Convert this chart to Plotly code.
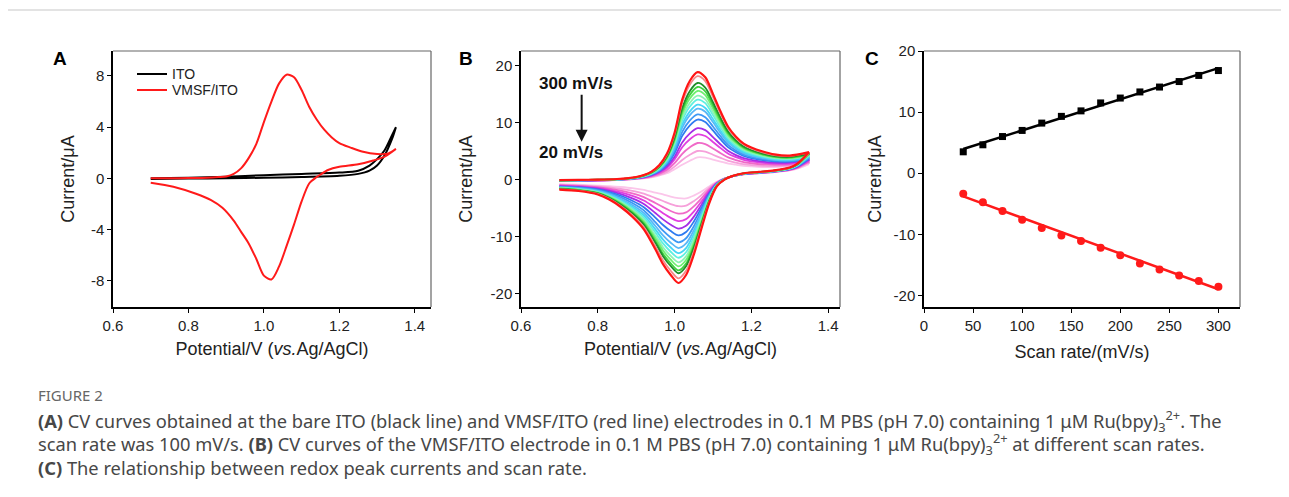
import plotly.graph_objects as go

# the page body adds an 8 px margin, so the figure is 8 px smaller than the window
OFF = 8
W, H = 1289 - OFF, 497 - OFF

# ---------------- Panel A data ----------------
a_ito_fwd_E = [0.70, 0.80, 0.90, 1.00, 1.10, 1.20, 1.25, 1.28, 1.30, 1.32, 1.34, 1.35]
a_ito_fwd_I = [-0.05, -0.02, 0.0, 0.05, 0.1, 0.2, 0.35, 0.6, 1.0, 1.8, 3.1, 4.0]
a_ito_rev_E = [1.35, 1.34, 1.32, 1.30, 1.28, 1.25, 1.20, 1.10, 1.00, 0.90, 0.80, 0.70]
a_ito_rev_I = [4.0, 3.4, 2.2, 1.5, 1.0, 0.6, 0.45, 0.35, 0.25, 0.12, 0.05, 0.0]

a_vmsf_fwd_E = [0.70, 0.75, 0.80, 0.85, 0.88, 0.90, 0.92, 0.94, 0.96, 0.98, 1.00, 1.02, 1.04,
                1.06, 1.08, 1.10, 1.12, 1.14, 1.16, 1.18, 1.20, 1.23, 1.26, 1.30, 1.33, 1.35]
a_vmsf_fwd_I = [0.0, 0.0, 0.02, 0.05, 0.1, 0.15, 0.35, 0.8, 1.6, 2.7, 4.4, 6.0, 7.4,
                8.1, 7.9, 6.9, 5.6, 4.6, 3.8, 3.2, 2.75, 2.4, 2.1, 1.9, 1.95, 2.3]
a_vmsf_rev_E = [1.35, 1.32, 1.29, 1.25, 1.20, 1.17, 1.15, 1.14, 1.12, 1.10, 1.08, 1.06, 1.04,
                1.02, 1.00, 0.98, 0.96, 0.94, 0.92, 0.89, 0.86, 0.82, 0.76, 0.70]
a_vmsf_rev_I = [2.3, 1.7, 1.4, 1.1, 0.9, 0.65, 0.3, 0.1, -0.4, -1.8, -3.6, -5.3, -6.9,
                -7.9, -7.6, -6.3, -5.1, -4.2, -3.3, -2.3, -1.7, -1.2, -0.65, -0.34]

# ---------------- Panel B data ----------------
b_fwd_E = [0.70, 0.75, 0.80, 0.85, 0.88, 0.90, 0.92, 0.94, 0.96, 0.98, 1.00, 1.02, 1.04,
           1.06, 1.08, 1.10, 1.12, 1.14, 1.16, 1.18, 1.20, 1.23, 1.26, 1.30, 1.35]
b_fast_fwd_I = [-0.1, -0.05, 0.0, 0.1, 0.25, 0.45, 0.8, 1.4, 2.5, 4.5, 8.2, 14.0, 17.3,
                18.8, 17.9, 15.0, 11.9, 9.2, 7.5, 6.3, 5.6, 4.9, 4.4, 4.2, 4.8]
b_slow_fwd_I = [-0.3, -0.25, -0.2, -0.1, 0.0, 0.1, 0.2, 0.4, 0.7, 1.1, 1.8, 2.6, 3.3,
                3.9, 3.85, 3.5, 3.15, 2.8, 2.6, 2.4, 2.3, 2.2, 2.2, 2.3, 2.7]
b_rev_E = [1.35, 1.32, 1.30, 1.26, 1.22, 1.18, 1.15, 1.13, 1.11, 1.09, 1.07, 1.05, 1.03,
           1.01, 0.99, 0.97, 0.95, 0.92, 0.89, 0.86, 0.83, 0.80, 0.75, 0.70]
b_fast_rev_I = [4.8, 2.8, 2.1, 1.6, 1.35, 1.1, 0.6, 0.0, -1.2, -4.2, -8.6, -13.2, -16.7,
                -18.1, -16.7, -14.8, -12.2, -8.7, -6.5, -4.8, -3.5, -2.6, -2.0, -1.75]
b_slow_rev_I = [2.7, 1.9, 1.6, 1.3, 1.1, 0.9, 0.55, 0.2, -0.4, -1.2, -2.1, -2.8, -3.3,
                -3.25, -3.0, -2.6, -2.3, -1.8, -1.5, -1.3, -1.15, -1.05, -0.9, -0.8]
# peak currents of each curve (slow -> fast)
b_anodic_peaks = [3.9, 5.0, 6.4, 7.9, 9.0, 10.5, 11.4, 12.4, 13.1, 14.0, 14.7, 15.5, 16.2, 16.9, 18.1, 18.8]
b_cathodic_peaks = [-3.3, -4.7, -6.0, -7.3, -8.6, -9.8, -11.0, -12.0, -12.9, -13.7, -14.5, -15.2, -15.9, -16.4, -17.3, -18.1]
b_colors = ["#fbc6ea", "#f6a0da", "#f06ac8", "#e23fe0", "#a62ee6", "#2f7bf0", "#3e99f5", "#5ab8f7",
            "#46d6f5", "#5ef0e0", "#8ef3b4", "#6ef070", "#3ed23e", "#1f8f2a", "#f58a8a", "#ff1414"]

# ---------------- Panel C data ----------------
c_scan = [40, 60, 80, 100, 120, 140, 160, 180, 200, 220, 240, 260, 280, 300]
c_ipa = [3.5, 4.65, 6.0, 7.0, 8.2, 9.3, 10.2, 11.5, 12.3, 13.3, 14.1, 15.0, 16.0, 16.8]
c_ipc = [-3.35, -4.75, -6.2, -7.6, -8.95, -10.2, -11.1, -12.2, -13.45, -14.8, -15.75, -16.75, -17.65, -18.6]
c_fit_x = [40, 300]
c_fit_ipa = [3.95, 17.2]
c_fit_ipc = [-3.8, -19.0]

# tick labels
a_xticks = [0.6, 0.8, 1.0, 1.2, 1.4]
a_xlabels = ["0.6", "0.8", "1.0", "1.2", "1.4"]
a_yticks = [-8, -4, 0, 4, 8]
a_ylabels = ["-8", "-4", "0", "4", "8"]
b_yticks = [-20, -10, 0, 10, 20]
b_ylabels = ["-20", "-10", "0", "10", "20"]
c_xticks = [0, 50, 100, 150, 200, 250, 300]
c_xlabels = ["0", "50", "100", "150", "200", "250", "300"]

fig = go.Figure()

# Panel A
fig.add_trace(go.Scatter(x=a_ito_fwd_E + a_ito_rev_E, y=a_ito_fwd_I + a_ito_rev_I, mode="lines",
                         line=dict(color="black", width=2, shape="spline", smoothing=0.8),
                         xaxis="x", yaxis="y", showlegend=False, name="ITO"))
fig.add_trace(go.Scatter(x=a_vmsf_fwd_E + a_vmsf_rev_E, y=a_vmsf_fwd_I + a_vmsf_rev_I, mode="lines",
                         line=dict(color="#ff1a1a", width=2, shape="spline", smoothing=0.8),
                         xaxis="x", yaxis="y", showlegend=False, name="VMSF/ITO"))

# Panel B
pa0, pa1 = b_anodic_peaks[0], b_anodic_peaks[-1]
pc0, pc1 = b_cathodic_peaks[0], b_cathodic_peaks[-1]
for pa, pc, col in zip(b_anodic_peaks, b_cathodic_peaks, b_colors):
    fa = (pa - pa0) / (pa1 - pa0)
    fc = (pc - pc0) / (pc1 - pc0)
    up = [s + (f - s) * fa for s, f in zip(b_slow_fwd_I, b_fast_fwd_I)]
    lo = [s + (f - s) * fc for s, f in zip(b_slow_rev_I, b_fast_rev_I)]
    fig.add_trace(go.Scatter(x=b_fwd_E + b_rev_E, y=up + lo, mode="lines",
                             line=dict(color=col, width=2.2 if col == "#ff1414" else 1.8,
                                       shape="spline", smoothing=0.8),
                             xaxis="x2", yaxis="y2", showlegend=False))

# Panel C
fig.add_trace(go.Scatter(x=c_fit_x, y=c_fit_ipa, mode="lines", line=dict(color="black", width=2.5),
                         xaxis="x3", yaxis="y3", showlegend=False))
fig.add_trace(go.Scatter(x=c_fit_x, y=c_fit_ipc, mode="lines", line=dict(color="#ff1a1a", width=2.5),
                         xaxis="x3", yaxis="y3", showlegend=False))
fig.add_trace(go.Scatter(x=c_scan, y=c_ipa, mode="markers",
                         marker=dict(symbol="square", size=7, color="black"),
                         xaxis="x3", yaxis="y3", showlegend=False))
fig.add_trace(go.Scatter(x=c_scan, y=c_ipc, mode="markers",
                         marker=dict(symbol="circle", size=8, color="#ff1a1a"),
                         xaxis="x3", yaxis="y3", showlegend=False))


def px(x):
    return (x - OFF) / W


def py(y):
    return 1 - (y - OFF) / H


ytop, ybot = 51, 307
FAM = "Liberation Sans, Arial, sans-serif"
axis_font = dict(family=FAM, size=15, color="#222")
title_font = dict(family=FAM, size=18, color="#222")
common = dict(showline=True, linecolor="black", linewidth=1.5, ticks="outside", ticklen=4,
              tickwidth=1.2, tickcolor="black", showgrid=False, zeroline=False, tickfont=axis_font,
              automargin=False, tickmode="array")

fig.update_layout(
    template="none",
    width=W, height=H, margin=dict(l=0, r=0, t=0, b=0, autoexpand=False),
    paper_bgcolor="white", plot_bgcolor="white", showlegend=False,
    font=dict(family=FAM, color="#222"),
    xaxis=dict(domain=[px(113), px(431)], range=[0.6, 1.443], anchor="y",
               tickvals=a_xticks, ticktext=a_xlabels,
               title=dict(text="Potential/V (<i>vs.</i>Ag/AgCl)", font=title_font, standoff=10), **common),
    yaxis=dict(domain=[py(ybot), py(ytop)], range=[-10.05, 9.95], anchor="x",
               tickvals=a_yticks, ticktext=a_ylabels,
               title=dict(text="Current/μA", font=title_font, standoff=12), **common),
    xaxis2=dict(domain=[px(521), px(840)], range=[0.6, 1.431], anchor="y2",
                tickvals=a_xticks, ticktext=a_xlabels,
                title=dict(text="Potential/V (<i>vs.</i>Ag/AgCl)", font=title_font, standoff=10), **common),
    yaxis2=dict(domain=[py(ybot), py(ytop)], range=[-22.3, 22.5], anchor="x2",
                tickvals=b_yticks, ticktext=b_ylabels,
                title=dict(text="Current/μA", font=title_font, standoff=13), **common),
    xaxis3=dict(domain=[px(924), px(1240)], range=[0, 322], anchor="y3",
                tickvals=c_xticks, ticktext=c_xlabels,
                title=dict(text="Scan rate/(mV/s)", font=title_font, standoff=13), **common),
    yaxis3=dict(domain=[py(ybot), py(ytop)], range=[-21.9, 20], anchor="x3",
                tickvals=b_yticks, ticktext=b_ylabels,
                title=dict(text="Current/μA", font=title_font, standoff=7), **common),
)

shapes = []
# top and right frame lines for each panel
for xa, ya in [("x", "y"), ("x2", "y2"), ("x3", "y3")]:
    shapes.append(dict(type="line", xref=f"{xa} domain", yref=f"{ya} domain", x0=0, x1=1, y0=1, y1=1,
                       line=dict(color="#666", width=1.2)))
    shapes.append(dict(type="line", xref=f"{xa} domain", yref=f"{ya} domain", x0=1, x1=1, y0=0, y1=1,
                       line=dict(color="#666", width=1.2)))
# outer article frame
shapes.append(dict(type="line", xref="paper", yref="paper", x0=px(6), x1=1, y0=py(10), y1=py(10),
                   line=dict(color="#c8c8c8", width=1.2)))
shapes.append(dict(type="line", xref="paper", yref="paper", x0=px(6), x1=px(6), y0=0, y1=py(10),
                   line=dict(color="#c8c8c8", width=1.2)))
# manual legend for panel A
shapes.append(dict(type="line", xref="paper", yref="paper", x0=px(137), x1=px(167), y0=py(74), y1=py(74),
                   line=dict(color="black", width=2)))
shapes.append(dict(type="line", xref="paper", yref="paper", x0=px(137), x1=px(167), y0=py(90), y1=py(90),
                   line=dict(color="#ff1a1a", width=2)))
fig.update_layout(shapes=shapes)

leg_font = dict(family=FAM, size=14, color="#222")
ann = [
    dict(text="ITO", x=px(170), y=py(74), xref="paper", yref="paper", xanchor="left", yanchor="middle",
         showarrow=False, font=leg_font),
    dict(text="VMSF/ITO", x=px(170), y=py(90), xref="paper", yref="paper", xanchor="left", yanchor="middle",
         showarrow=False, font=leg_font),
]
panel_font = dict(family=FAM, size=19, color="black")
for lab, x in [("A", 60), ("B", 466), ("C", 872)]:
    ann.append(dict(text=f"<b>{lab}</b>", x=px(x), y=py(58), xref="paper", yref="paper",
                    xanchor="center", yanchor="middle", showarrow=False, font=panel_font))
bold_font = dict(family=FAM, size=17, color="#111")
ann.append(dict(text="<b>300 mV/s</b>", x=0.744, y=16.9, xref="x2", yref="y2", xanchor="center",
                yanchor="middle", showarrow=False, font=bold_font))
ann.append(dict(text="<b>20 mV/s</b>", x=0.73, y=4.66, xref="x2", yref="y2", xanchor="center",
                yanchor="middle", showarrow=False, font=bold_font))
ann.append(dict(text="", x=0.758, y=6.6, ax=0.758, ay=15.1, xref="x2", yref="y2", axref="x2", ayref="y2",
                showarrow=True, arrowhead=2, arrowsize=1.2, arrowwidth=2, arrowcolor="#111"))

CAP_FAM = "Noto Sans, sans-serif"
cap_font = dict(family=CAP_FAM, size=18.3, color="#474747")
ann.append(dict(text="FIGURE 2", x=px(36), y=py(395), xref="paper", yref="paper", xanchor="left",
                yanchor="middle", showarrow=False, font=dict(family=CAP_FAM, size=15, color="#666")))
cap_lines = [
    "<b>(A)</b> CV curves obtained at the bare ITO (black line) and VMSF/ITO (red line) electrodes in 0.1 M PBS (pH 7.0) containing 1 μM Ru(bpy)<sub>3</sub><sup>2+</sup>. The",
    "scan rate was 100 mV/s. <b>(B)</b> CV curves of the VMSF/ITO electrode in 0.1 M PBS (pH 7.0) containing 1 μM Ru(bpy)<sub>3</sub><sup>2+</sup> at different scan rates.",
    "<b>(C)</b> The relationship between redox peak currents and scan rate.",
]
for line, y in zip(cap_lines, [421, 444, 467]):
    ann.append(dict(text=line, x=px(36), y=py(y), xref="paper", yref="paper", xanchor="left",
                    yanchor="middle", showarrow=False, font=cap_font))
fig.update_layout(annotations=ann)

fig.write_html("out.html")
